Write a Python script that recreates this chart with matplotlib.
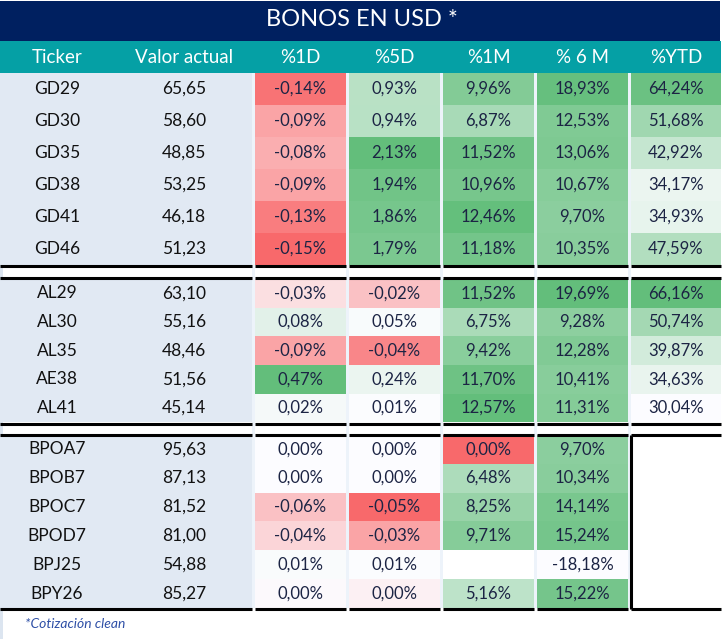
import numpy as np
import matplotlib
matplotlib.use("Agg")
import matplotlib.pyplot as plt
from matplotlib.patches import Rectangle

plt.rcParams['font.family'] = ['Lato', 'DejaVu Sans']

# ---------------- data ----------------
title = "BONOS EN USD *"
headers = ["Ticker", "Valor actual", "%1D", "%5D", "%1M", "% 6 M", "%YTD"]
footnote = "*Cotización clean"

g1_tickers = ["GD29", "GD30", "GD35", "GD38", "GD41", "GD46"]
g1_valor = [65.65, 58.60, 48.85, 53.25, 46.18, 51.23]
g1_d1 = [-0.14, -0.09, -0.08, -0.09, -0.13, -0.15]
g1_d5 = [0.93, 0.94, 2.13, 1.94, 1.86, 1.79]
g1_m1 = [9.96, 6.87, 11.52, 10.96, 12.46, 11.18]
g1_m6 = [18.93, 12.53, 13.06, 10.67, 9.70, 10.35]
g1_ytd = [64.24, 51.68, 42.92, 34.17, 34.93, 47.59]

g2_tickers = ["AL29", "AL30", "AL35", "AE38", "AL41"]
g2_valor = [63.10, 55.16, 48.46, 51.56, 45.14]
g2_d1 = [-0.03, 0.08, -0.09, 0.47, 0.02]
g2_d5 = [-0.02, 0.05, -0.04, 0.24, 0.01]
g2_m1 = [11.52, 6.75, 9.42, 11.70, 12.57]
g2_m6 = [19.69, 9.28, 12.28, 10.41, 11.31]
g2_ytd = [66.16, 50.74, 39.87, 34.63, 30.04]

g3_tickers = ["BPOA7", "BPOB7", "BPOC7", "BPOD7", "BPJ25", "BPY26"]
g3_valor = [95.63, 87.13, 81.52, 81.00, 54.88, 85.27]
g3_d1 = [0.00, 0.00, -0.06, -0.04, 0.01, -0.003]
g3_d5 = [0.00, 0.00, -0.05, -0.03, 0.01, -0.004]
g3_m1 = [-0.004, 6.48, 8.25, 9.71, np.nan, 5.16]
g3_m6 = [9.70, 10.34, 14.14, 15.24, -18.18, 15.22]
g3_ytd = [np.nan] * 6

groups = [
    (g1_tickers, g1_valor, [g1_d1, g1_d5, g1_m1, g1_m6, g1_ytd]),
    (g2_tickers, g2_valor, [g2_d1, g2_d5, g2_m1, g2_m6, g2_ytd]),
    (g3_tickers, g3_valor, [g3_d1, g3_d5, g3_m1, g3_m6, g3_ytd]),
]

# ---------------- style / layout ----------------
NAVY = "#002060"
TEAL = "#05A0A5"
LEFTBG = "#E1E9F3"
GAPBG = "#EDF3FA"
TXT = "#1C2444"
WHITE = np.array([252, 252, 255]) / 255
RED = np.array([248, 105, 107]) / 255
GREEN = np.array([99, 190, 123]) / 255
SCALE3 = [True, True, True, False, False]   # 3-colour (midpoint 0) vs 2-colour

W, H = 724, 639
TAB_R = 721
title_y = (1, 41)
head_y = (41, 72.7)
left_block = (0, 252)
col_x = [(255, 346), (349, 440), (443, 534), (537, 628), (631, 721)]
ticker_cx, valor_cx = 57, 184
group_tops = [72.7, 278.8, 434.8]
row_h = [32.05, 28.7, 28.87]
lines_y = [266.3, 277.5, 423.5, 434.8]
LW = 2.2

fig = plt.figure(figsize=(W / 100, H / 100), dpi=100)
ax = fig.add_axes([0, 0, 1, 1])
ax.set_xlim(0, W)
ax.set_ylim(H, 0)
ax.axis("off")


def rect(x0, x1, y0, y1, color, z=1):
    ax.add_patch(Rectangle((x0, y0), x1 - x0, y1 - y0, facecolor=color,
                           edgecolor="none", linewidth=0, zorder=z))


def fmt(v):
    v = round(v, 2) + 0.0
    return f"{v:.2f}".replace(".", ",") + "%"


def cell_color(v, ci, vmin, vmax):
    if np.isnan(v):
        return None
    if SCALE3[ci]:
        if v < 0:
            t = v / vmin
            c = WHITE + (RED - WHITE) * t
        else:
            t = v / vmax
            c = WHITE + (GREEN - WHITE) * t
    else:
        t = (v - vmin) / (vmax - vmin)
        c = WHITE + (GREEN - WHITE) * t
    return tuple(np.clip(c, 0, 1))


# column ranges
col_vals = [np.array(sum([list(g[2][ci]) for g in groups], []), dtype=float) for ci in range(5)]
col_min = [np.nanmin(c) for c in col_vals]
col_max = [np.nanmax(c) for c in col_vals]

# title + header
rect(0, TAB_R - 1, title_y[0], title_y[1], NAVY)
ax.text((0 + TAB_R) / 2 + 1, 20, title, color="white", fontsize=17, ha="center", va="center")
rect(0, TAB_R, head_y[0], head_y[1], TEAL)
hx = [ticker_cx, valor_cx] + [(a + b) / 2 for a, b in col_x]
for x, h in zip(hx, headers):
    ax.text(x, (head_y[0] + head_y[1]) / 2 + 0.5, h, color="white", fontsize=13.5, ha="center", va="center")

# background strips
bottom = group_tops[2] + row_h[2] * len(g3_tickers)
rect(0, 2.5, head_y[1], H, "#DCE5F0", z=0.5)
for (a, b), (c, d) in zip([left_block] + col_x[:-1], col_x):
    rect(b, c, head_y[1], bottom, GAPBG, z=0.5)

# groups
for gi, (tick, valor, cols) in enumerate(groups):
    top = group_tops[gi]
    rh = row_h[gi]
    n = len(tick)
    rect(left_block[0], left_block[1], top, top + rh * n, LEFTBG)
    for r in range(n):
        y0 = top + r * rh
        yc = y0 + rh / 2
        ax.text(ticker_cx, yc, tick[r], color="#111111", fontsize=12.5, ha="center", va="center", zorder=5)
        ax.text(valor_cx, yc, f"{valor[r]:.2f}".replace(".", ","), color="#111111", fontsize=12.5,
                ha="center", va="center", zorder=5)
        for ci, (xa, xb) in enumerate(col_x):
            v = cols[ci][r]
            c = cell_color(v, ci, col_min[ci], col_max[ci])
            if c is None:
                rect(xa, xb, y0, y0 + rh, "white")
                continue
            rect(xa, xb, y0, y0 + rh, c)
            ax.text((xa + xb) / 2, yc, fmt(v), color=TXT, fontsize=12, ha="center", va="center", zorder=5)

# black separator lines (segmented per column block)
segments = [left_block] + col_x
for yl in lines_y + [bottom + 0.8]:
    for a, b in segments:
        ax.plot([a, b], [yl, yl], color="black", lw=LW, solid_capstyle="butt", zorder=6)
# empty %YTD block of last group
ax.plot([col_x[4][0] - 0.3, col_x[4][0] - 0.3], [lines_y[3], bottom + 0.8], color="black", lw=LW,
        solid_capstyle="butt", zorder=6)

ax.text(25, 624, footnote, color="#2E4FA6", fontsize=10, style="italic", ha="left", va="center")

fig.savefig("out.png", dpi=100)
